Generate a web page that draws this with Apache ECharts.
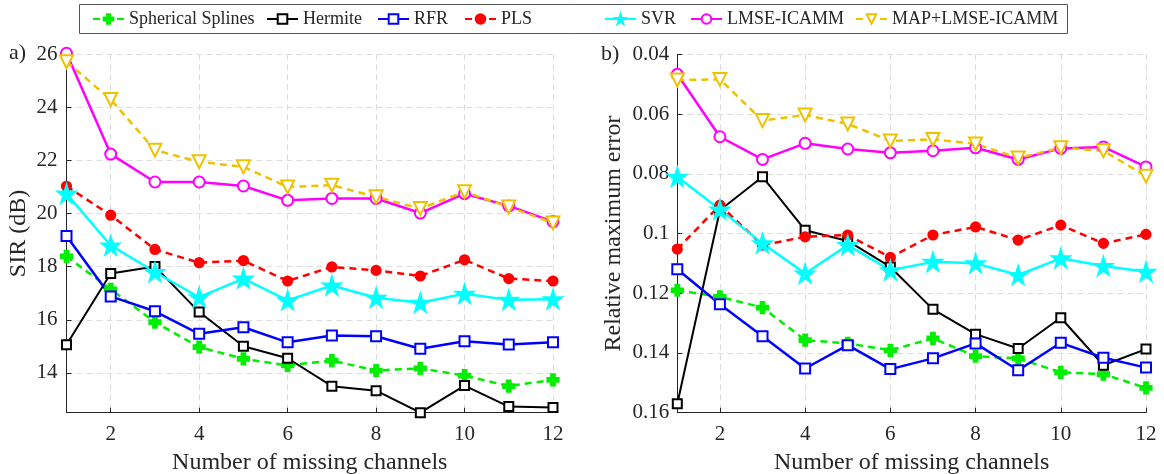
<!DOCTYPE html>
<html>
<head>
<meta charset="utf-8">
<script src="https://cdn.jsdelivr.net/npm/echarts@6/dist/echarts.min.js"></script>
<style>
  html, body { margin: 0; padding: 0; background: #fff; }
  #chart { width: 1164px; height: 474px; }
</style>
</head>
<body>
<div id="chart"></div>
<script>
// number of missing channels
const channels = [1, 2, 3, 4, 5, 6, 7, 8, 9, 10, 11, 12];
const xTicks = [2, 4, 6, 8, 10, 12];
const sirTicks = [14, 16, 18, 20, 22, 24, 26];

// a) SIR (dB)
const sirSpline = [18.39, 17.15, 15.91, 14.97, 14.53, 14.28, 14.46, 14.09, 14.17, 13.9, 13.5, 13.74];
const sirHermite = [15.06, 17.74, 18.01, 16.29, 15.0, 14.55, 13.5, 13.33, 12.5, 13.52, 12.73, 12.7];
const sirRFR = [19.16, 16.88, 16.32, 15.47, 15.72, 15.15, 15.41, 15.38, 14.91, 15.19, 15.07, 15.15];
const sirPLS = [21.03, 19.94, 18.65, 18.15, 18.23, 17.46, 17.99, 17.86, 17.65, 18.26, 17.55, 17.46];
const sirSVR = [20.75, 18.8, 17.8, 16.85, 17.55, 16.73, 17.29, 16.83, 16.64, 16.98, 16.75, 16.77];
const sirLMSE = [26.04, 22.24, 21.19, 21.19, 21.04, 20.5, 20.57, 20.57, 20.02, 20.75, 20.29, 19.7];
const sirMAP = [25.72, 24.3, 22.39, 21.95, 21.76, 21.0, 21.07, 20.63, 20.19, 20.82, 20.25, 19.65];

// b) Relative maximum error
const errSpline = [0.119, 0.1212, 0.1248, 0.1357, 0.1368, 0.1391, 0.1351, 0.1411, 0.1418, 0.1465, 0.1471, 0.1517];
const errHermite = [0.157, 0.0922, 0.081, 0.0989, 0.1025, 0.1112, 0.1254, 0.1337, 0.1385, 0.1282, 0.1441, 0.1387];
const errRFR = [0.112, 0.1237, 0.1344, 0.1452, 0.1374, 0.1454, 0.1418, 0.1368, 0.1458, 0.1366, 0.1416, 0.1449];
const errPLS = [0.1052, 0.0905, 0.1039, 0.1011, 0.1005, 0.108, 0.1005, 0.0978, 0.1022, 0.0972, 0.1033, 0.1003];
const errSVR = [0.081, 0.092, 0.1033, 0.1134, 0.1039, 0.1123, 0.1095, 0.11, 0.1139, 0.1083, 0.1109, 0.1128];
const errLMSE = [0.0467, 0.0676, 0.0752, 0.0698, 0.0717, 0.073, 0.0723, 0.0713, 0.0752, 0.0715, 0.071, 0.0777];
const errMAP = [0.0486, 0.0484, 0.0622, 0.0603, 0.0633, 0.069, 0.0685, 0.07, 0.0747, 0.0713, 0.0723, 0.0808];

const font = 'Liberation Serif';
const txt = '#262626';
const plusPath = 'path://M3.4,0H6.6V3.4H10V6.6H6.6V10H3.4V6.6H0V3.4H3.4Z';
const starPath = 'path://M50,0L61,35L98,35L68,57L79,91L50,70L21,91L32,57L2,35L39,35Z';

// series style per method (legendX = left edge of the legend icon)
const methods = [
  { name: 'Spherical Splines', color: '#00ee00', dash: [7, 5], symbol: plusPath, size: 11, legendX: 92, sir: sirSpline, err: errSpline },
  { name: 'Hermite', color: '#000000', dash: 'solid', symbol: 'emptyRect', size: 9, legendX: 266, width: 2, sir: sirHermite, err: errHermite },
  { name: 'RFR', color: '#0000ff', dash: 'solid', symbol: 'emptyRect', size: 10, legendX: 377, sir: sirRFR, err: errRFR },
  { name: 'PLS', color: '#ff0000', dash: [7, 5], symbol: 'circle', size: 9, legendX: 464, sir: sirPLS, err: errPLS },
  { name: 'SVR', color: '#00ffff', dash: 'solid', symbol: starPath, size: 17, legendX: 604, sir: sirSVR, err: errSVR },
  { name: 'LMSE-ICAMM', color: '#ff00ff', dash: 'solid', symbol: 'emptyCircle', size: 11, legendX: 690, sir: sirLMSE, err: errLMSE },
  { name: 'MAP+LMSE-ICAMM', color: '#eec200', dash: [7, 5], symbol: 'emptyTriangle', size: 13, rotate: 180, legendX: 855, sir: sirMAP, err: errMAP }
];

function makeSeries(m, idx, key) {
  return {
    name: m.name,
    type: 'line',
    xAxisIndex: idx,
    yAxisIndex: idx,
    data: channels.map((c, i) => [c, m[key][i]]),
    symbol: m.symbol,
    symbolSize: m.size,
    symbolRotate: m.rotate || 0,
    showAllSymbol: true,
    clip: false,
    lineStyle: { color: m.color, width: m.width || 2.5, type: m.dash },
    itemStyle: { color: m.color, borderColor: m.color, borderWidth: 2.2 },
    emphasis: { disabled: true },
    animation: false
  };
}

const gridLine = { show: true, lineStyle: { color: '#dcdcdc', type: [6, 4], width: 1 } };

function xAxis(idx) {
  return {
    type: 'value', gridIndex: idx, min: 1, max: 12,
    name: 'Number of missing channels', nameLocation: 'middle', nameGap: 38,
    nameTextStyle: { fontFamily: font, fontSize: 24, color: txt },
    axisLine: { show: true, onZero: false, lineStyle: { color: txt, width: 1 } },
    axisTick: { show: true, inside: true, length: 5, customValues: xTicks, lineStyle: { color: txt } },
    axisLabel: { customValues: xTicks, fontFamily: font, fontSize: 21, color: txt, margin: 11 },
    splitLine: gridLine
  };
}

let myChart = echarts.init(document.getElementById('chart'));
let option = {
  backgroundColor: '#fff',
  animation: false,
  textStyle: { fontFamily: font },
  // one legend per item so that the spacing follows the original
  legend: methods.map(m => ({
    data: [m.name],
    left: m.legendX, top: 10,
    padding: 0,
    itemWidth: 31, itemHeight: 12,
    textStyle: { fontFamily: font, fontSize: 18, color: txt }
  })),
  grid: [
    { left: 66.5, right: 611, top: 54.3, bottom: 61.3, outerBoundsMode: 'none' },
    { left: 677.3, right: 18, top: 54.3, bottom: 61.3, outerBoundsMode: 'none' }
  ],
  xAxis: [xAxis(0), xAxis(1)],
  yAxis: [
    {
      type: 'value', gridIndex: 0, min: 12.5, max: 26,
      name: 'SIR (dB)', nameLocation: 'middle', nameGap: 35.5,
      nameTextStyle: { fontFamily: font, fontSize: 24, color: txt },
      axisLine: { show: true, lineStyle: { color: txt, width: 1 } },
      axisTick: { show: true, inside: true, length: 5, customValues: sirTicks, lineStyle: { color: txt } },
      axisLabel: { customValues: sirTicks, fontFamily: font, fontSize: 21, color: txt, margin: 9 },
      splitLine: gridLine
    },
    {
      type: 'value', gridIndex: 1, min: 0.04, max: 0.16, interval: 0.02, inverse: true,
      name: 'Relative maximum error', nameLocation: 'middle', nameGap: 52,
      nameTextStyle: { fontFamily: font, fontSize: 24, color: txt },
      axisLine: { show: true, lineStyle: { color: txt, width: 1 } },
      axisTick: { show: true, inside: true, length: 5, lineStyle: { color: txt } },
      axisLabel: { fontFamily: font, fontSize: 21, color: txt, margin: 8, formatter: v => String(+v.toFixed(2)) },
      splitLine: gridLine
    }
  ],
  graphic: [
    { type: 'rect', shape: { x: 79.5, y: 4.5, width: 988, height: 29 }, style: { fill: 'none', stroke: '#555', lineWidth: 1 }, z: 0 },
    { type: 'text', left: 9, top: 42, style: { text: 'a)', font: '22px "Liberation Serif"', fill: txt } },
    { type: 'text', left: 601, top: 43, style: { text: 'b)', font: '22px "Liberation Serif"', fill: txt } }
  ],
  series: [
    ...methods.map(m => makeSeries(m, 0, 'sir')),
    ...methods.map(m => makeSeries(m, 1, 'err'))
  ]
};
option && myChart.setOption(option);
</script>
</body>
</html>
